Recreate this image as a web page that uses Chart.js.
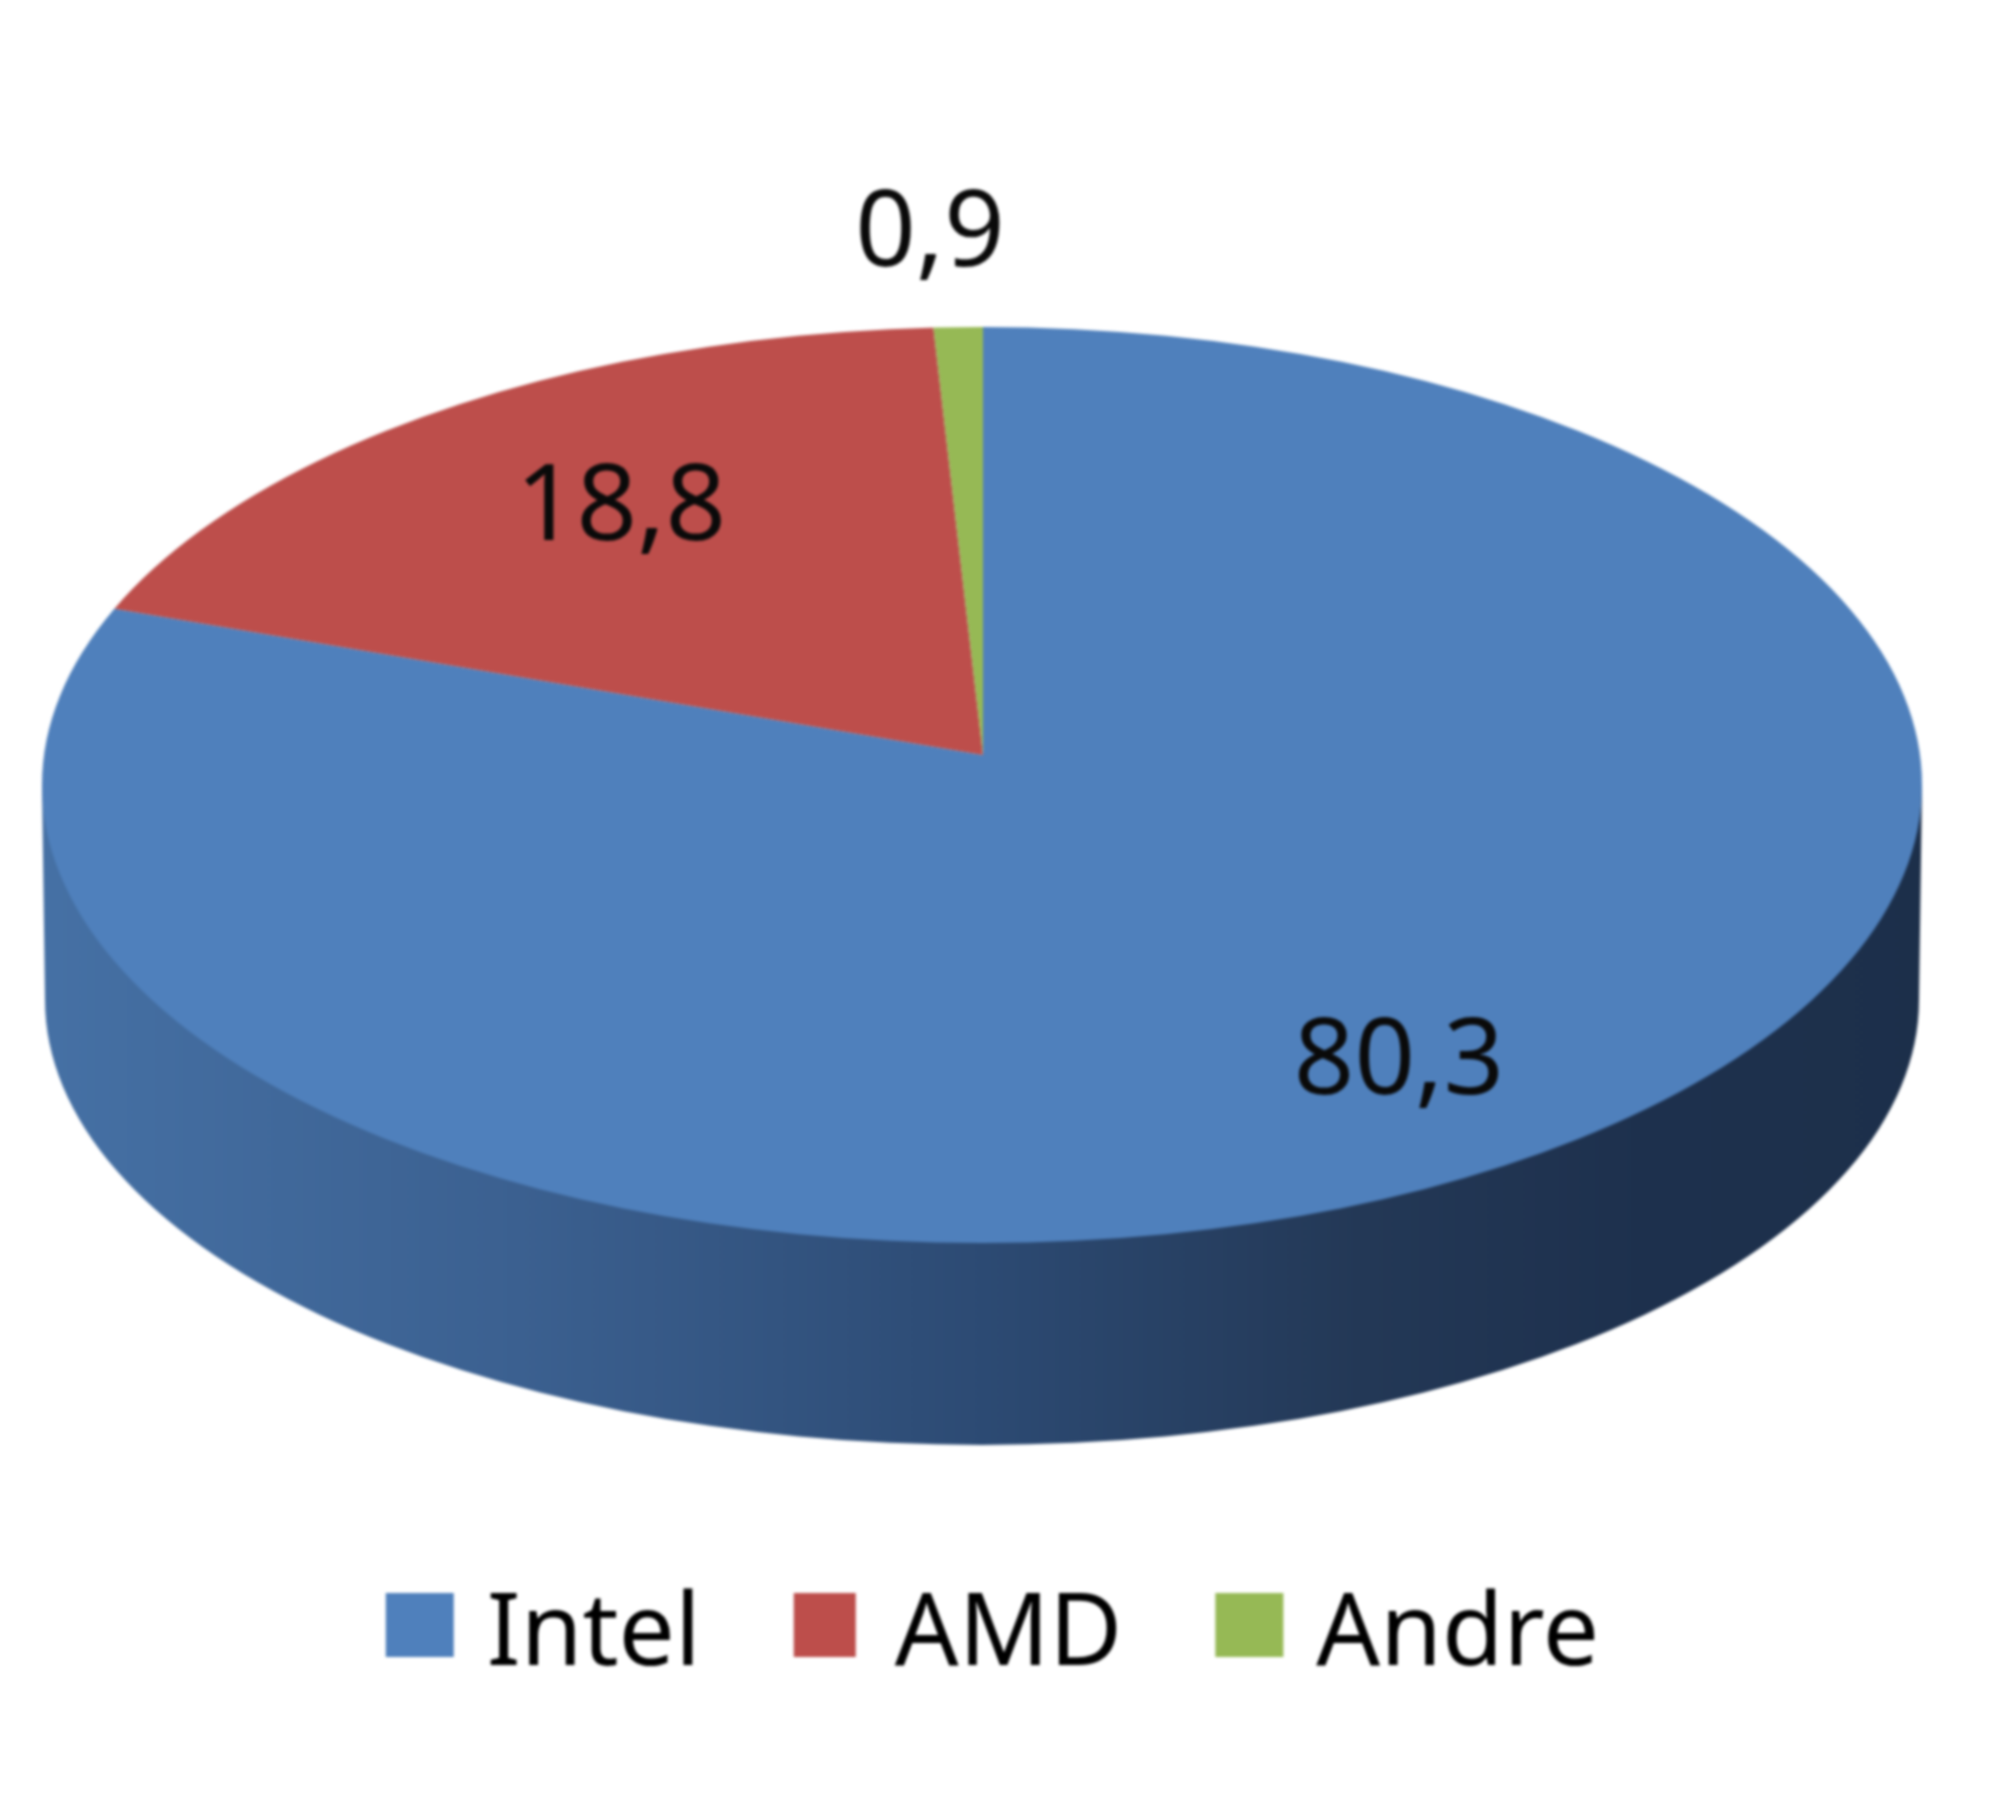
<!DOCTYPE html>
<html>
<head>
<meta charset="utf-8">
<style>
html,body{margin:0;padding:0;background:#fff;}
#wrap{width:2000px;height:1815px;}
canvas{display:block;filter:blur(1.8px);}
</style>
<script src="https://cdn.jsdelivr.net/npm/chart.js@4/dist/chart.umd.min.js"></script>
</head>
<body>
<div id="wrap"><canvas id="c" width="2000" height="1815"></canvas></div>
<script>
const categories = ['Intel', 'AMD', 'Andre'];
const values = [80.3, 18.8, 0.9];
const sliceColors = ['#4f80bc', '#bd4e4b', '#96b955'];
const valueLabels = ['80,3', '18,8', '0,9'];

const FONT = '"Noto Sans", "Open Sans", sans-serif';
const labelAnchors = [[1399, 1094], [621, 540], [930, 266]];
const face = {cx: 982, cy: 785, rx: 940, ry: 458, apexX: 983, apexY: 755};
const base = {cx: 982, cy: 1000, rx: 937, ry: 445};
const swatch = {dx: -15, dy: 6, widths: [68, 62, 68], height: 64};

const pie3d = {
  id: 'pie3d',
  beforeDatasetsDraw(chart) {
    const ctx = chart.ctx;
    const el = chart.getDatasetMeta(0).data[0];
    // side wall
    const g = ctx.createLinearGradient(base.cx - base.rx, 0, base.cx + base.rx, 0);
    g.addColorStop(0, '#4570a4');
    g.addColorStop(0.25, '#3b6090');
    g.addColorStop(0.5, '#2c4a73');
    g.addColorStop(0.7, '#233856');
    g.addColorStop(0.85, '#1d304d');
    g.addColorStop(1, '#1c2f4a');
    ctx.save();
    ctx.fillStyle = g;
    ctx.beginPath();
    ctx.moveTo(face.cx - face.rx, face.cy);
    ctx.lineTo(base.cx - base.rx, base.cy);
    ctx.ellipse(base.cx, base.cy, base.rx, base.ry, 0, Math.PI, 0, true);
    ctx.lineTo(face.cx + face.rx, face.cy);
    ctx.closePath();
    ctx.fill();
    ctx.restore();
    // top face: tilted library arcs, trimmed to the visible ellipse
    ctx.save();
    ctx.beginPath();
    ctx.ellipse(face.cx, face.cy, face.rx, face.ry, 0, 0, Math.PI * 2);
    ctx.clip();
    const s = 1060 / el.outerRadius;
    const k = face.ry / face.rx;
    ctx.translate(face.apexX, face.apexY);
    ctx.scale(s, s * k);
    ctx.translate(-el.x, -el.y);
  },
  afterDatasetsDraw(chart) {
    const ctx = chart.ctx;
    ctx.restore();
    ctx.save();
    ctx.fillStyle = '#0a0a0a';
    ctx.font = '106px ' + FONT;
    ctx.textAlign = 'center';
    ctx.textBaseline = 'alphabetic';
    valueLabels.forEach((t, i) => ctx.fillText(t, labelAnchors[i][0], labelAnchors[i][1]));
    ctx.restore();
  },
  afterDraw(chart) {
    const ctx = chart.ctx;
    ctx.save();
    chart.legend.legendHitBoxes.forEach((hit, i) => {
      ctx.fillStyle = sliceColors[i];
      ctx.fillRect(hit.left + swatch.dx, hit.top + swatch.dy, swatch.widths[i], swatch.height);
    });
    ctx.restore();
  }
};

new Chart(document.getElementById('c'), {
  type: 'pie',
  data: {
    labels: categories,
    datasets: [{
      data: values,
      backgroundColor: sliceColors,
      borderWidth: 0,
      clip: false
    }]
  },
  options: {
    responsive: false,
    animation: false,
    layout: {padding: {bottom: 118, right: 0}},
    plugins: {
      title: {display: false},
      tooltip: {enabled: false},
      legend: {
        display: true,
        position: 'bottom',
        labels: {
          boxWidth: 36,
          boxHeight: 34,
          padding: 108,
          color: '#0a0a0a',
          font: {family: FONT, size: 100},
          generateLabels(chart) {
            return categories.map((c, i) => ({
              text: c,
              fillStyle: 'rgba(0,0,0,0)',
              strokeStyle: 'rgba(0,0,0,0)',
              lineWidth: 0,
              hidden: false,
              index: i
            }));
          }
        }
      }
    }
  },
  plugins: [pie3d]
});
</script>
</body>
</html>
